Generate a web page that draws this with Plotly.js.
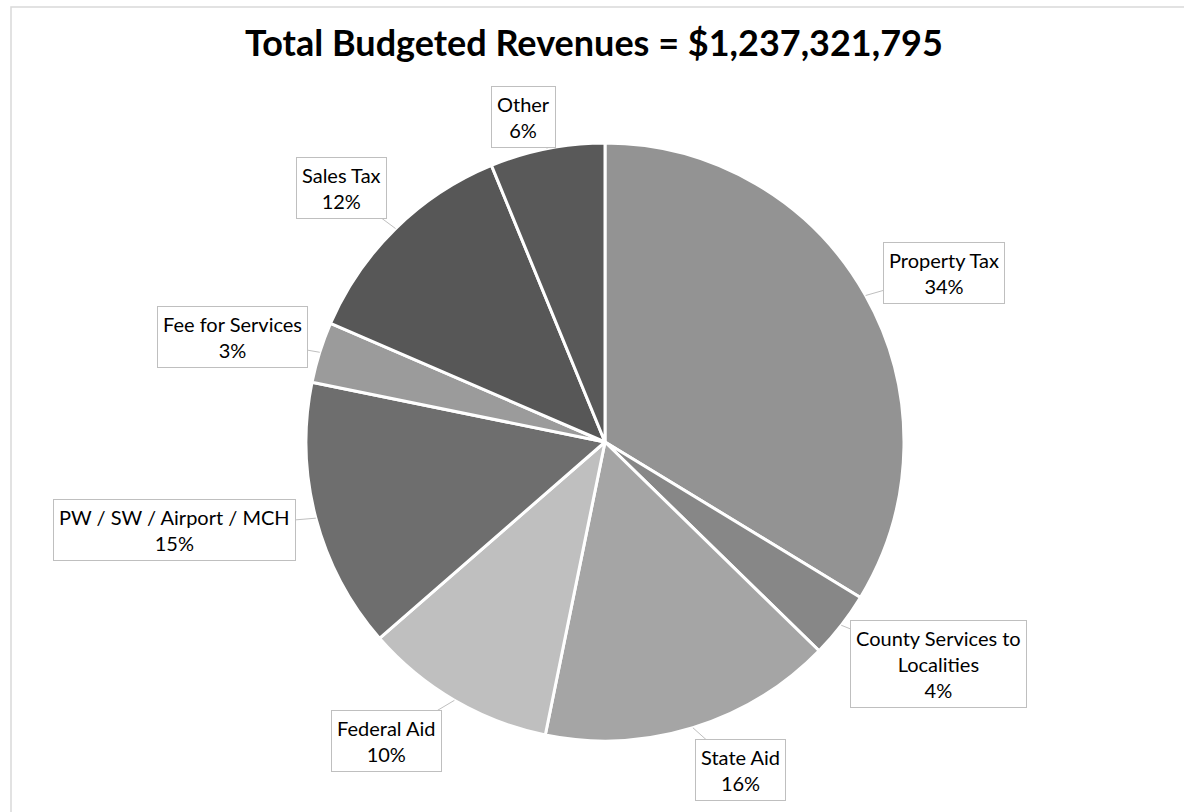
<!DOCTYPE html>
<html>
<head>
<meta charset="utf-8">
<script src="https://cdn.plot.ly/plotly-3.0.1.min.js"></script>
<style>html,body{margin:0;padding:0;background:#fff;}#chart{width:1184px;height:812px;}</style>
</head>
<body>
<div id="chart"></div>
<script>
// Data (percent shares)
const categories = ["Property Tax", "County Services to<br>Localities", "State Aid", "Federal Aid",
                    "PW / SW / Airport / MCH", "Fee for Services", "Sales Tax", "Other"];
const shares = [33.7, 3.6, 15.9, 10.4, 14.6, 3.3, 12.3, 6.2];
const sliceColors = ["#939393", "#878787", "#a5a5a5", "#bfbfbf", "#6e6e6e", "#9b9b9b", "#575757", "#595959"];
const titleText = "Total Budgeted Revenues = $1,237,321,795";

// Layout (pixel positions of the label boxes' centres)
const W = 1184, H = 812;
const cx = 605, cy = 442, R = 299;
const labelCenters = [[944, 273], [938, 664], [740, 770], [386, 741], [174, 530], [232, 337], [341, 188], [523, 117]];

const total = shares.reduce((a, b) => a + b, 0);
let cum = 0;
const annotations = [];
shares.forEach((v, i) => {
  const mid = (cum + v / 2) / total * 2 * Math.PI;
  cum += v;
  const px = cx + R * Math.sin(mid);
  const py = cy - R * Math.cos(mid);
  const pct = Math.round(v / total * 100) + "%";
  annotations.push({
    x: px / W, y: 1 - py / H, xref: "paper", yref: "paper",
    ax: labelCenters[i][0] - px, ay: labelCenters[i][1] - py,
    axref: "pixel", ayref: "pixel",
    text: categories[i] + "<br>" + pct,
    showarrow: true, arrowhead: 0, arrowwidth: 1, arrowcolor: "#bfbfbf",
    bordercolor: "#bfbfbf", borderwidth: 1, borderpad: 5, bgcolor: "#ffffff",
    font: {family: "Lato, 'Open Sans', sans-serif", size: 20, color: "#000000"},
    align: "center"
  });
});
annotations.push({
  x: 594 / W, y: 1 - 42 / H, xref: "paper", yref: "paper", showarrow: false,
  xanchor: "center", yanchor: "middle",
  text: "<b>" + titleText + "</b>",
  font: {family: "Lato, 'Open Sans', sans-serif", size: 36, color: "#000000"}
});

const data = [{
  type: "pie",
  labels: categories,
  values: shares,
  sort: false,
  direction: "clockwise",
  rotation: 0,
  textinfo: "none",
  hoverinfo: "label+percent",
  marker: {colors: sliceColors, line: {color: "#ffffff", width: 3}},
  domain: {x: [(cx - R) / W, (cx + R) / W], y: [1 - (cy + R) / H, 1 - (cy - R) / H]},
  showlegend: false
}];

const layout = {
  width: W, height: H,
  margin: {l: 0, r: 0, t: 0, b: 0},
  paper_bgcolor: "#ffffff",
  showlegend: false,
  annotations: annotations,
  shapes: [{
    type: "rect", xref: "paper", yref: "paper",
    x0: 11 / W, x1: 1.01, y0: -0.01, y1: 1 - 7 / H,
    line: {color: "#d9d9d9", width: 1.5}, fillcolor: "rgba(0,0,0,0)", layer: "below"
  }]
};

Plotly.newPlot("chart", data, layout, {displayModeBar: false, staticPlot: true});
</script>
</body>
</html>
